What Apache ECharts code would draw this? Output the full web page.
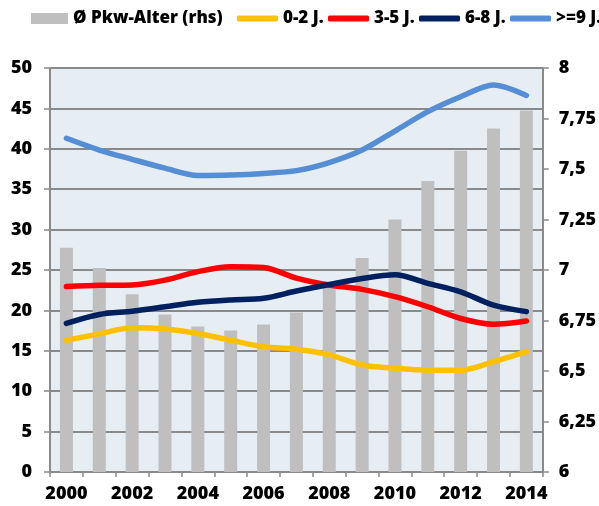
<!DOCTYPE html>
<html>
<head>
<meta charset="utf-8">
<script src="https://cdn.jsdelivr.net/npm/echarts@6/dist/echarts.min.js"></script>
<style>
  html, body { margin: 0; padding: 0; background: #fff; }
  #chart { width: 599px; height: 506px; }
</style>
</head>
<body>
<div id="chart"></div>
<script>
// Jahre
var years = ['2000','2001','2002','2003','2004','2005','2006','2007','2008','2009','2010','2011','2012','2013','2014'];
// Ø Pkw-Alter (rechte Achse)
var pkwAlter = [7.11, 7.01, 6.88, 6.78, 6.72, 6.70, 6.73, 6.79, 6.93, 7.06, 7.25, 7.44, 7.59, 7.70, 7.79];
// Anteile nach Altersklasse (linke Achse)
var j02 = [16.3, 17.1, 17.85, 17.7, 17.15, 16.3, 15.5, 15.2, 14.5, 13.25, 12.85, 12.6, 12.6, 13.65, 14.9];
var j35 = [22.95, 23.1, 23.15, 23.75, 24.8, 25.4, 25.3, 24.0, 23.15, 22.6, 21.7, 20.45, 19.0, 18.3, 18.7];
var j68 = [18.4, 19.5, 19.9, 20.45, 21.0, 21.3, 21.5, 22.4, 23.2, 23.95, 24.4, 23.35, 22.3, 20.65, 19.85];
var j9 = [41.3, 39.85, 38.7, 37.6, 36.7, 36.75, 36.95, 37.3, 38.3, 39.85, 42.2, 44.6, 46.45, 47.9, 46.6];

var lineNames = ['0-2 J.', '3-5 J.', '6-8 J.', '>=9 J.'];
var lineColors = ['#ffc000', '#ff0000', '#002060', '#558ed5'];

var fontFam = '"Open Sans", "DejaVu Sans", sans-serif';
var axisGray = '#8a8a8a';
var legendText = { fontFamily: fontFam, fontWeight: 800, fontSize: 17, color: '#000' };
var axisText = { color: '#000', fontWeight: 800, fontSize: 18, fontFamily: fontFam };

var chart = echarts.init(document.getElementById('chart'));

function lineSeries(name, data, color) {
    return {
        name: name,
        type: 'line',
        data: data,
        yAxisIndex: 0,
        smooth: 0.3,
        symbol: 'none',
        lineStyle: { color: color, width: 5.5, cap: 'round' },
        itemStyle: { color: color },
        z: 3
    };
}

// eine Legende pro Eintrag, damit die Abstände wie im Original sitzen
var legendLeft = [232, 323, 414, 505];
var legends = [{
    top: 5, left: 26,
    itemWidth: 37, itemHeight: 11,
    textStyle: legendText,
    data: [{ name: 'Ø Pkw-Alter (rhs)', icon: 'rect' }]
}];
for (var i = 0; i < lineNames.length; i++) {
    legends.push({
        top: 5, left: legendLeft[i],
        itemWidth: 41, itemHeight: 6,
        icon: 'roundRect',
        textStyle: legendText,
        data: [lineNames[i]]
    });
}

var option = {
    animation: false,
    backgroundColor: '#fff',
    textStyle: { fontFamily: fontFam },
    legend: legends,
    grid: {
        left: 50, right: 54, top: 68, bottom: 34,
        show: true,
        backgroundColor: '#e6eef4',
        borderWidth: 0
    },
    xAxis: {
        type: 'category',
        data: years,
        boundaryGap: true,
        axisLine: { lineStyle: { color: axisGray, width: 2 } },
        axisTick: { show: true, interval: 0, length: 5, lineStyle: { color: axisGray, width: 1.5 } },
        axisLabel: Object.assign({ interval: 1, margin: 13 }, axisText),
        splitLine: { show: false }
    },
    yAxis: [
        {
            type: 'value',
            min: 0, max: 50, interval: 5,
            axisLine: { show: true, lineStyle: { color: axisGray, width: 2 } },
            axisTick: { show: true, length: 6, lineStyle: { color: axisGray, width: 1.5 } },
            axisLabel: Object.assign({ margin: 18 }, axisText),
            splitLine: { show: true, lineStyle: { color: axisGray, width: 2 } }
        },
        {
            type: 'value',
            min: 6, max: 8, interval: 0.25,
            position: 'right',
            axisLine: { show: true, lineStyle: { color: axisGray, width: 2 } },
            axisTick: { show: true, length: 6, lineStyle: { color: axisGray, width: 1.5 } },
            axisLabel: Object.assign({
                margin: 16,
                formatter: function (v) { return String(v).replace('.', ','); }
            }, axisText),
            splitLine: { show: false }
        }
    ],
    series: [
        {
            name: 'Ø Pkw-Alter (rhs)',
            type: 'bar',
            data: pkwAlter,
            yAxisIndex: 1,
            barWidth: 13,
            itemStyle: { color: '#bfbfbf' },
            z: 2
        },
        lineSeries(lineNames[0], j02, lineColors[0]),
        lineSeries(lineNames[1], j35, lineColors[1]),
        lineSeries(lineNames[2], j68, lineColors[2]),
        lineSeries(lineNames[3], j9, lineColors[3])
    ]
};

chart.setOption(option);
</script>
</body>
</html>
